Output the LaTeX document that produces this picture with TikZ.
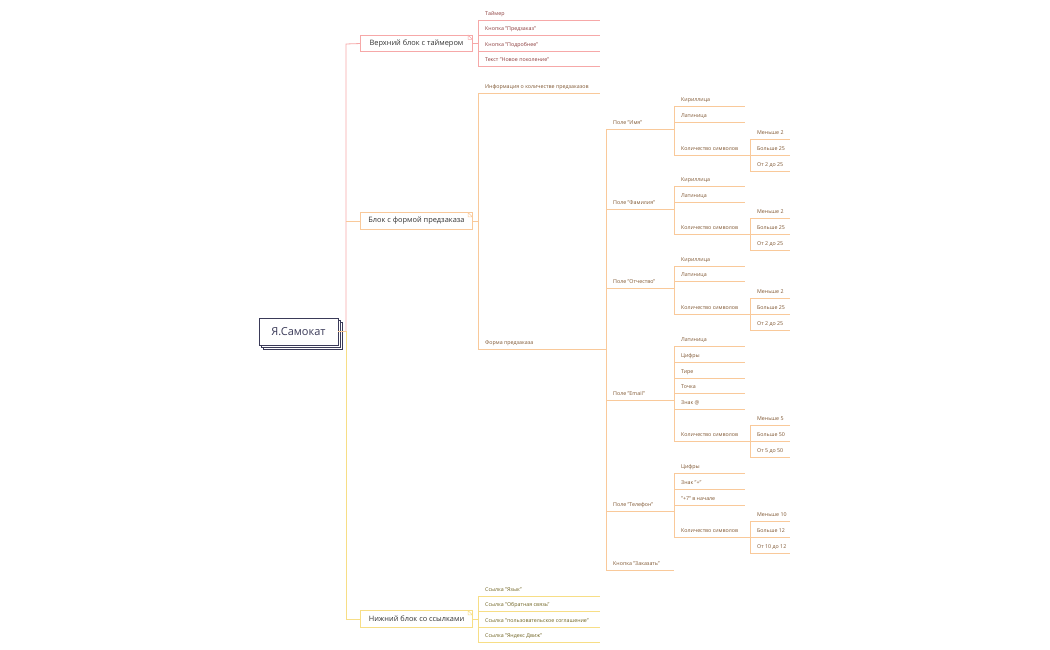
\documentclass[tikz,border=0pt]{standalone}
\usepackage{fontspec}
\setmainfont{Open Sans}
\definecolor{pkl}{HTML}{F6A8A8}
\definecolor{pkt}{HTML}{8A3A3A}
\definecolor{orl}{HTML}{F9C99A}
\definecolor{ort}{HTML}{7E5530}
\definecolor{yel}{HTML}{F7DE86}
\definecolor{yet}{HTML}{6E6220}
\definecolor{navy}{HTML}{3A3A58}
\newcommand\lf[7]{%
 \coordinate (#1-l) at (#2,#4); \coordinate (#1-r) at (#3,#4);
 \draw[#6,line width=0.8pt] (#1-l) -- (#1-r);
 \node[lbl,text=#7] (#1) at ([shift={(7pt,4.2pt)}]#1-l) {#5};}
\tikzset{lbl/.style={anchor=base west,inner sep=0pt,font=\fontsize{5.3}{6}\selectfont},
 blk/.style={fill=white,minimum width=111pt,minimum height=16pt,inner sep=0pt,font=\fontsize{7.4}{9}\selectfont,text=black!80},
 bus/.style={line width=0.8pt,draw=#1}}
\begin{document}
\begin{tikzpicture}[x=1pt,y=-1pt]
\useasboundingbox (0,0) rectangle (1050,650);
% root
\draw[navy,fill=white,line width=0.6pt] (263,322) rectangle (342,349);
\draw[navy,fill=white,line width=0.6pt] (261,320) rectangle (340,347);
\node[draw=navy,fill=white,line width=0.6pt,minimum width=79pt,minimum height=27pt,inner sep=0pt,font=\fontsize{11}{12}\selectfont,text=navy] (root) at (298.5,331.5) {Я.Самокат};
\coordinate (hub) at (346,331);
\coordinate (hubt) at (346,44);
\coordinate (hubm) at (346,221);
\coordinate (hubb) at (346,619);
% level 1
\node[blk] (b1) at (416.5,43.5) {Верхний блок с таймером};
\node[blk] (b2) at (416.5,221) {Блок с формой предзаказа};
\node[blk] (b3) at (416.5,619) {Нижний блок со ссылками};
\foreach \b/\c in {b1/pkl,b2/orl,b3/yel}{
 \draw[\c,line width=0.9pt] (\b.south west) rectangle (\b.north east);
 \draw[\c,fill=white,line width=0.5pt] ([xshift=-4pt]\b.north east) -- ([yshift=-4pt]\b.north east) -- ([xshift=-4pt,yshift=-4pt]\b.north east) -- cycle;}
\draw[bus=orl] (root.east |- hub) -- (hub);
\draw[bus=pkl] (hub) -- (hubt) -- (b1.west);
\draw[bus=orl] (hubm) -- (b2.west);
\draw[bus=yel] (hub) -- (hubb) -- (b3.west);
% top block
\lf{t1}{478}{600}{20}{Таймер}{pkl}{pkt}
\lf{t2}{478}{600}{35}{Кнопка "Предзаказ"}{pkl}{pkt}
\lf{t3}{478}{600}{51}{Кнопка "Подробнее"}{pkl}{pkt}
\lf{t4}{478}{600}{66}{Текст "Новое поколение"}{pkl}{pkt}
\draw[bus=pkl] (t1-l) -- (t4-l);
\draw[bus=pkl] (b1.east) -- (b1.east -| t1-l);
% middle
\lf{m1}{478}{600}{93}{Информация о количестве предзаказов}{orl}{ort}
\lf{m2}{478}{606}{349}{Форма предзаказа}{orl}{ort}
\draw[bus=orl] (m1-l) -- (m2-l);
\draw[bus=orl] (b2.east) -- (b2.east -| m1-l);
% fields
\lf{f1}{606}{674}{129}{Поле "Имя"}{orl}{ort}
\lf{f2}{606}{674}{209}{Поле "Фамилия"}{orl}{ort}
\lf{f3}{606}{674}{288}{Поле "Отчество"}{orl}{ort}
\lf{f4}{606}{674}{400}{Поле "Email"}{orl}{ort}
\lf{f5}{606}{674}{511}{Поле "Телефон"}{orl}{ort}
\lf{f6}{606}{674}{570}{Кнопка "Заказать"}{orl}{ort}
\draw[bus=orl] (f1-l) -- (f6-l);
% Имя
\lf{a1}{674}{745}{106}{Кириллица}{orl}{ort}
\lf{a2}{674}{745}{122}{Латиница}{orl}{ort}
\lf{a3}{674}{750}{155}{Количество символов}{orl}{ort}
\draw[bus=orl] (a1-l) -- (a3-l);
\lf{a4}{750}{790}{139}{Меньше 2}{orl}{ort}
\lf{a5}{750}{790}{155}{Больше 25}{orl}{ort}
\lf{a6}{750}{790}{171}{От 2 до 25}{orl}{ort}
\draw[bus=orl] (a4-l) -- (a6-l);
% Фамилия
\lf{c1}{674}{745}{186}{Кириллица}{orl}{ort}
\lf{c2}{674}{745}{202}{Латиница}{orl}{ort}
\lf{c3}{674}{750}{234}{Количество символов}{orl}{ort}
\draw[bus=orl] (c1-l) -- (c3-l);
\lf{c4}{750}{790}{218}{Меньше 2}{orl}{ort}
\lf{c5}{750}{790}{234}{Больше 25}{orl}{ort}
\lf{c6}{750}{790}{250}{От 2 до 25}{orl}{ort}
\draw[bus=orl] (c4-l) -- (c6-l);
% Отчество
\lf{d1}{674}{745}{266}{Кириллица}{orl}{ort}
\lf{d2}{674}{745}{281}{Латиница}{orl}{ort}
\lf{d3}{674}{750}{314}{Количество символов}{orl}{ort}
\draw[bus=orl] (d1-l) -- (d3-l);
\lf{d4}{750}{790}{298}{Меньше 2}{orl}{ort}
\lf{d5}{750}{790}{314}{Больше 25}{orl}{ort}
\lf{d6}{750}{790}{330}{От 2 до 25}{orl}{ort}
\draw[bus=orl] (d4-l) -- (d6-l);
% Email
\lf{e1}{674}{745}{346}{Латиница}{orl}{ort}
\lf{e2}{674}{745}{362}{Цифры}{orl}{ort}
\lf{e3}{674}{745}{378}{Тире}{orl}{ort}
\lf{e4}{674}{745}{393}{Точка}{orl}{ort}
\lf{e5}{674}{745}{409}{Знак @}{orl}{ort}
\lf{e6}{674}{750}{441}{Количество символов}{orl}{ort}
\draw[bus=orl] (e1-l) -- (e6-l);
\lf{e7}{750}{790}{425}{Меньше 5}{orl}{ort}
\lf{e8}{750}{790}{441}{Больше 50}{orl}{ort}
\lf{e9}{750}{790}{457}{От 5 до 50}{orl}{ort}
\draw[bus=orl] (e7-l) -- (e9-l);
% Телефон
\lf{p1}{674}{745}{473}{Цифры}{orl}{ort}
\lf{p2}{674}{745}{489}{Знак "+"}{orl}{ort}
\lf{p3}{674}{745}{505}{"+7" в начале}{orl}{ort}
\lf{p4}{674}{750}{537}{Количество символов}{orl}{ort}
\draw[bus=orl] (p1-l) -- (p4-l);
\lf{p5}{750}{790}{521}{Меньше 10}{orl}{ort}
\lf{p6}{750}{790}{537}{Больше 12}{orl}{ort}
\lf{p7}{750}{790}{553}{От 10 до 12}{orl}{ort}
\draw[bus=orl] (p5-l) -- (p7-l);
% bottom
\lf{s1}{478}{600}{596}{Ссылка "Язык"}{yel}{yet}
\lf{s2}{478}{600}{611}{Ссылка "Обратная связь"}{yel}{yet}
\lf{s3}{478}{600}{627}{Ссылка "пользовательское соглашение"}{yel}{yet}
\lf{s4}{478}{600}{642}{Ссылка "Яндекс Движ"}{yel}{yet}
\draw[bus=yel] (s1-l) -- (s4-l);
\draw[bus=yel] (b3.east) -- (b3.east -| s1-l);
\end{tikzpicture}
\end{document}
